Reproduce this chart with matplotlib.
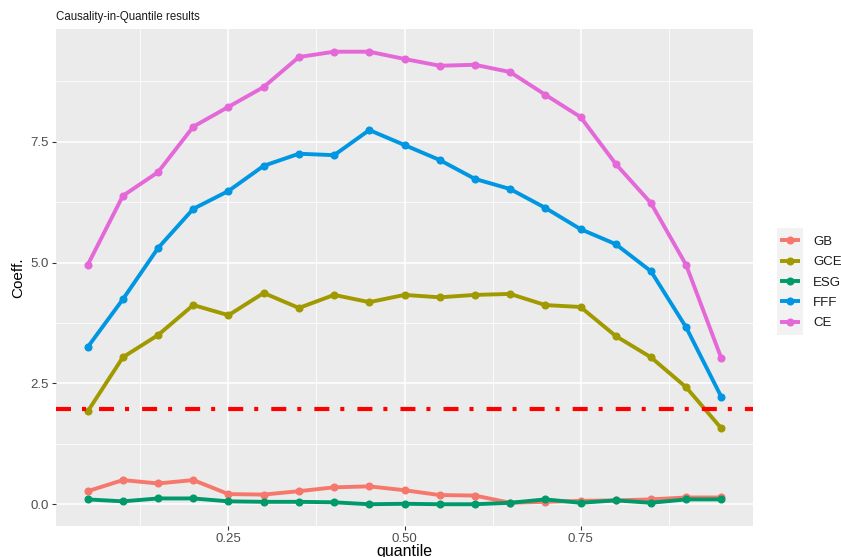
import numpy as np
import matplotlib.pyplot as plt
from matplotlib.patches import Rectangle

plt.rcParams['font.family'] = ['Liberation Sans', 'DejaVu Sans']
plt.rcParams['lines.scale_dashes'] = False

quantile = [0.05, 0.10, 0.15, 0.20, 0.25, 0.30, 0.35, 0.40, 0.45, 0.50,
            0.55, 0.60, 0.65, 0.70, 0.75, 0.80, 0.85, 0.90, 0.95]

gb = [0.27, 0.50, 0.43, 0.50, 0.21, 0.20, 0.27, 0.35, 0.37, 0.29,
      0.19, 0.18, 0.03, 0.05, 0.07, 0.08, 0.10, 0.14, 0.14]
gce = [1.92, 3.04, 3.50, 4.12, 3.91, 4.37, 4.06, 4.33, 4.18, 4.33,
       4.28, 4.33, 4.35, 4.12, 4.08, 3.48, 3.04, 2.42, 1.57]
esg = [0.10, 0.06, 0.12, 0.12, 0.06, 0.05, 0.05, 0.04, 0.00, 0.01,
       0.00, 0.00, 0.03, 0.10, 0.03, 0.08, 0.03, 0.10, 0.10]
fff = [3.25, 4.24, 5.30, 6.11, 6.48, 7.00, 7.25, 7.22, 7.74, 7.43,
       7.12, 6.73, 6.52, 6.13, 5.69, 5.38, 4.82, 3.66, 2.22]
ce = [4.95, 6.38, 6.87, 7.81, 8.22, 8.63, 9.25, 9.36, 9.36, 9.21,
      9.07, 9.09, 8.94, 8.47, 8.01, 7.04, 6.23, 4.95, 3.02]

critical = 1.96

names = ['GB', 'GCE', 'ESG', 'FFF', 'CE']
series = [gb, gce, esg, fff, ce]
colors = ['#F6786C', '#A09A00', '#009A6A', '#0096E2', '#E468D8']

fig = plt.figure(figsize=(8.41, 5.57), dpi=100)
ax = fig.add_axes([56/841, 31/557, 697/841, 497/557])
ax.set_facecolor('#EBEBEB')

# ggplot-style grid
ax.set_xticks([0.25, 0.50, 0.75])
ax.set_xticklabels(['0.25', '0.50', '0.75'])
ax.set_xticks([0.125, 0.375, 0.625, 0.875], minor=True)
ax.set_yticks([0.0, 2.5, 5.0, 7.5])
ax.set_yticklabels(['0.0', '2.5', '5.0', '7.5'])
ax.set_yticks([1.25, 3.75, 6.25, 8.75], minor=True)
ax.grid(which='major', color='white', linewidth=1.1)
ax.grid(which='minor', color='white', linewidth=0.55)
ax.set_axisbelow(True)
for s in ax.spines.values():
    s.set_visible(False)
ax.tick_params(which='major', length=3, width=0.8, color='#333333',
               labelsize=9.5, labelcolor='#4D4D4D', pad=2)
ax.tick_params(which='minor', length=0)

lines = []
for name, vals, c in zip(names, series, colors):
    ln, = ax.plot(quantile, vals, color=c, linewidth=2.8, marker='o',
                  markersize=4.8, label=name, solid_capstyle='butt')
    lines.append(ln)

ax.axhline(critical, color='#FF0000', linewidth=3,
           dashes=(10.8, 7.9, 2.9, 9.4), dash_capstyle='butt')

ax.set_xlim(0.005, 0.995)
ax.set_ylim(-0.45, 9.83)

ax.set_xlabel('quantile', fontsize=11.5, labelpad=-1)
ax.set_ylabel('Coeff.', fontsize=11, labelpad=4)
fig.text(56/841, 1 - 17/557, 'Causality-in-Quantile results', fontsize=8.3,
         va='center', ha='left', color='#1A1A1A')

# legend with grey key background
fig.patches.append(Rectangle((777/841, 1 - 335/557), 26/841, 107/557,
                             transform=fig.transFigure, facecolor='#F2F2F2',
                             edgecolor='none', zorder=0))
leg = fig.legend(handles=lines, labels=names, loc='upper left',
                 bbox_to_anchor=(773/841, 1 - 229/557), frameon=False,
                 fontsize=9.5, handlelength=1.55, handletextpad=1.0,
                 labelspacing=0.62, borderpad=0)
for t in leg.get_texts():
    t.set_color('#1A1A1A')

fig.savefig('out.png', dpi=100)
